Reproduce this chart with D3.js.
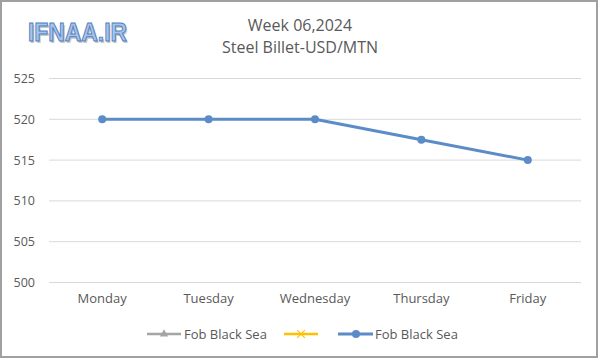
<!DOCTYPE html>
<html>
<head>
<meta charset="utf-8">
<script src="https://cdn.jsdelivr.net/npm/d3@7"></script>
<style>
  html, body { margin: 0; padding: 0; background: #fff; }
  svg { display: block; }
  text { font-family: "Open Sans", "Liberation Sans", sans-serif; fill: #595959; }
</style>
</head>
<body>
<svg id="chart" width="600" height="360"></svg>
<script>
const days = ["Monday", "Tuesday", "Wednesday", "Thursday", "Friday"];
const fobBlackSeaA = [];   // gray triangle series (no visible data)
const seriesB = [];        // yellow x series (no visible data)
const fobBlackSea = [520, 520, 520, 517.5, 515];
const yTicks = [500, 505, 510, 515, 520, 525];
const titleLines = ["Week 06,2024", "Steel Billet-USD/MTN"];
const legendNames = ["Fob Black Sea", "", "Fob Black Sea"];

const svg = d3.select("#chart");

// outer border
svg.append("rect").attr("x", 1).attr("y", 1).attr("width", 596).attr("height", 356)
  .attr("fill", "#fff").attr("stroke", "#a0a0a0").attr("stroke-width", 2);

const x = d3.scaleBand().domain(days).range([49, 581]);
const y = d3.scaleLinear().domain([500, 525]).range([282.5, 78.5]);

// gridlines
svg.append("g").selectAll("line").data(yTicks).join("line")
  .attr("x1", 49).attr("x2", 581)
  .attr("y1", d => y(d)).attr("y2", d => y(d))
  .attr("stroke", "#d9d9d9").attr("stroke-width", 1);

// y axis labels
const yAxis = d3.axisLeft(y).tickValues(yTicks).tickSize(0).tickPadding(0);
const gy = svg.append("g").attr("transform", "translate(35,0)").call(yAxis);
gy.select(".domain").remove();
gy.selectAll("text").style("font-size", "12.5px").attr("fill", "#595959")
  .style("font-family", "'Open Sans', sans-serif");

// x axis labels
const xAxis = d3.axisBottom(x).tickSize(0).tickPadding(0);
const gx = svg.append("g").attr("transform", "translate(0,294)").call(xAxis);
gx.select(".domain").remove();
gx.selectAll("text").style("font-size", "13px").attr("fill", "#595959")
  .style("font-family", "'Open Sans', sans-serif");

// line
const cx = d => x(d) + x.bandwidth() / 2;
const color = "#5b8cc8";
const line = d3.line().x((d, i) => cx(days[i])).y(d => y(d));
svg.append("path").datum(fobBlackSea).attr("d", line)
  .attr("fill", "none").attr("stroke", color).attr("stroke-width", 3)
  .attr("stroke-linejoin", "round");
svg.append("g").selectAll("circle").data(fobBlackSea).join("circle")
  .attr("cx", (d, i) => cx(days[i])).attr("cy", d => y(d)).attr("r", 4)
  .attr("fill", color);

// titles
svg.append("text").attr("x", 300).attr("y", 31).attr("text-anchor", "middle")
  .style("font-size", "16px").text(titleLines[0]);
svg.append("text").attr("x", 300).attr("y", 53).attr("text-anchor", "middle")
  .style("font-size", "16px").text(titleLines[1]);

// logo
const logo = svg.append("g").attr("transform", "translate(28,41) scale(0.88,1)");
logo.append("text").attr("x", 1.5).attr("y", 1.5).text("IFNAA.IR")
  .style("font-family", "'Liberation Sans', sans-serif").style("font-weight", "bold")
  .style("font-size", "26px").style("fill", "#c8c8c8");
logo.append("text").attr("x", 0).attr("y", 0).text("IFNAA.IR")
  .style("font-family", "'Liberation Sans', sans-serif").style("font-weight", "bold")
  .style("font-size", "26px").style("fill", "#a9c3ea")
  .attr("stroke", "#4f7fc0").attr("stroke-width", 1);

// legend
const lg = svg.append("g");
const ly = 334;
// item 1: gray triangle
lg.append("line").attr("x1", 147).attr("x2", 181).attr("y1", ly).attr("y2", ly)
  .attr("stroke", "#a5a5a5").attr("stroke-width", 2.5);
lg.append("path").attr("d", d3.symbol(d3.symbolTriangle, 30)())
  .attr("transform", `translate(164,${ly})`).attr("fill", "#a5a5a5");
lg.append("text").attr("x", 184).attr("y", ly + 4.5).style("font-size", "13px").text(legendNames[0]);
// item 2: yellow x
lg.append("line").attr("x1", 284).attr("x2", 318).attr("y1", ly).attr("y2", ly)
  .attr("stroke", "#ffc000").attr("stroke-width", 2.5);
lg.append("path").attr("d", d3.symbol(d3.symbolX, 40)())
  .attr("transform", `translate(301,${ly})`).attr("fill", "none")
  .attr("stroke", "#ffc000").attr("stroke-width", 1.2);
// item 3: blue circle
lg.append("line").attr("x1", 338).attr("x2", 373).attr("y1", ly).attr("y2", ly)
  .attr("stroke", color).attr("stroke-width", 3);
lg.append("circle").attr("cx", 356).attr("cy", ly).attr("r", 4).attr("fill", color);
lg.append("text").attr("x", 375).attr("y", ly + 4.5).style("font-size", "13px").text(legendNames[2]);
</script>
</body>
</html>
